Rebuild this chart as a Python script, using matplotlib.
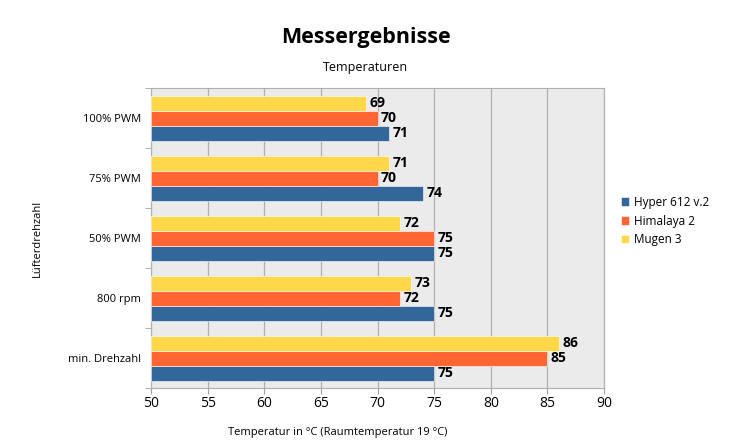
import numpy as np
import matplotlib
matplotlib.use("Agg")
import matplotlib.pyplot as plt

plt.rcParams["font.family"] = ["Open Sans", "DejaVu Sans"]

categories = ["100% PWM", "75% PWM", "50% PWM", "800 rpm", "min. Drehzahl"]
hyper = [71, 74, 75, 75, 75]
himalaya = [70, 70, 75, 72, 85]
mugen = [69, 71, 72, 73, 86]
series_names = ["Hyper 612 v.2", "Himalaya 2", "Mugen 3"]
colors = ["#336699", "#FF6633", "#FFD84A"]
x_ticks = [50, 55, 60, 65, 70, 75, 80, 85, 90]

fig = plt.figure(figsize=(7.31, 4.42), dpi=100)
ax = fig.add_axes([151 / 731, 1 - 388 / 442, (604 - 151) / 731, 300 / 442])
ax.set_facecolor("#EBEBEB")

y = np.arange(len(categories))
h = 0.25
offsets = [0.25, 0.0, -0.25]
handles = []
for vals, off, col, name in zip([hyper, himalaya, mugen], offsets, colors, series_names):
    b = ax.barh(y + off, [v - 50 for v in vals], left=50, height=h, color=col,
                edgecolor="#FFFFFF", linewidth=0.4, label=name, zorder=3)
    handles.append(b)
    for yy, v in zip(y + off, vals):
        ax.text(v + 0.3, yy, str(v), va="center", ha="left", fontsize=10,
                fontweight="bold", color="black", zorder=4)

ax.set_xlim(50, 90)
ax.set_ylim(4.5, -0.5)
ax.set_xticks(x_ticks)
ax.set_xticklabels([str(t) for t in x_ticks], fontsize=10)
ax.set_yticks(y)
ax.set_yticklabels(categories, fontsize=8)
ax.tick_params(axis="y", length=0, pad=7)
ax.set_yticks(np.arange(-0.5, 5.0, 1.0), minor=True)
ax.tick_params(axis="y", which="minor", length=4, color="#A0A0A0")
ax.tick_params(axis="x", length=4, color="#A0A0A0", pad=2)
ax.grid(axis="x", color="#B0B0B0", linewidth=0.9, zorder=1)
for s in ax.spines.values():
    s.set_color("#B0B0B0")

ax.set_xlabel("Temperatur in °C (Raumtemperatur 19 °C)", fontsize=8)
ax.xaxis.set_label_coords((338 - 151) / 453, (388 - 432) / 300)
ax.xaxis.label.set_verticalalignment("center")
ax.set_ylabel("Lüfterdrehzahl", fontsize=8)
ax.yaxis.set_label_coords((37 - 151) / 453, 0.5)
ax.yaxis.label.set_verticalalignment("center")

fig.text(0.5, 1 - 37 / 442, "Messergebnisse", ha="center", va="center",
         fontsize=15.5, fontweight="bold")
fig.text(0.5, 1 - 67 / 442, "Temperaturen", ha="center", va="center", fontsize=9)

fig.legend(handles=handles, labels=series_names, loc="center left",
           bbox_to_anchor=(610 / 731, 1 - 221 / 442), frameon=False,
           fontsize=8.5, handlelength=0.7, handleheight=0.7, handletextpad=0.4,
           labelspacing=0.5)

fig.savefig("out.png", dpi=100)
